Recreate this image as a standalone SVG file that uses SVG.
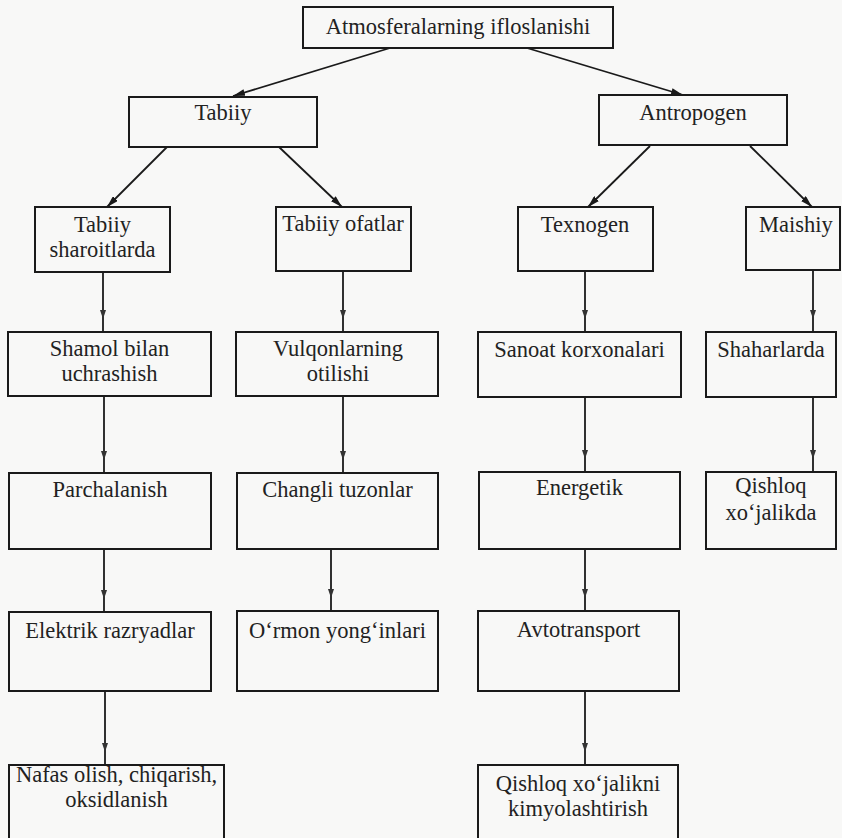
<svg xmlns="http://www.w3.org/2000/svg" width="842" height="838" viewBox="0 0 842 838">
<defs>
<style>
.box{fill:none;stroke:#1a1a1a;stroke-width:2}
.t{font-family:'Liberation Serif','Times New Roman','Noto Serif','DejaVu Serif',serif;font-size:22.5px;fill:#222;text-anchor:middle}
.c{fill:none;stroke:#1a1a1a;stroke-width:1.8}
.d{marker-end:url(#ah)}
.v{marker-mid:url(#ahs)}
</style>
<marker id="ah" viewBox="0 0 12 7" refX="12" refY="3.5" markerWidth="12" markerHeight="7" markerUnits="userSpaceOnUse" orient="auto"><path d="M0,0 L12,3.5 L0,7 z" fill="#1a1a1a"/></marker>
<marker id="ahs" viewBox="0 0 9 6" refX="9" refY="3" markerWidth="9" markerHeight="6" markerUnits="userSpaceOnUse" orient="auto"><path d="M0,0 L9,3 L0,6 z" fill="#333"/></marker>
</defs>
<rect width="842" height="838" fill="#f8f8f7"/>
<g id="connectors">
<path class="c d" d="M390,48 L233,96"/>
<path class="c d" d="M527,48 L683,95"/>
<path class="c d" d="M167,147 L107,207"/>
<path class="c d" d="M279,147 L342,207"/>
<path class="c d" d="M650,146 L588,207"/>
<path class="c d" d="M750,146 L812,207"/>
<path class="c v" d="M103,272 L103,319 L103,332"/>
<path class="c v" d="M104,396 L104,460 L104,473"/>
<path class="c v" d="M104,549 L104,599 L104,612"/>
<path class="c v" d="M105,691 L105,752 L105,765"/>
<path class="c v" d="M343,271 L343,319 L343,332"/>
<path class="c v" d="M343,396 L343,460 L343,473"/>
<path class="c v" d="M331,549 L331,598 L331,611"/>
<path class="c v" d="M585,271 L585,319 L585,332"/>
<path class="c v" d="M585,397 L585,459 L585,472"/>
<path class="c v" d="M585,549 L585,598 L585,611"/>
<path class="c v" d="M585,691 L585,752 L585,765"/>
<path class="c v" d="M813,270 L813,319 L813,332"/>
<path class="c v" d="M813,397 L813,459 L813,472"/>
</g>
<g id="n-root"><rect class="box" x="303" y="7" width="310" height="41"/><text class="t" x="458" y="34">Atmosferalarning ifloslanishi</text></g>
<g id="n-tabiiy"><rect class="box" x="129" y="97" width="188" height="50"/><text class="t" x="223" y="120">Tabiiy</text></g>
<g id="n-antropogen"><rect class="box" x="599" y="95" width="188" height="50"/><text class="t" x="693" y="120">Antropogen</text></g>
<g id="n-sharoit"><rect class="box" x="35" y="207" width="135" height="65"/><text class="t" x="102.5" y="232">Tabiiy</text><text class="t" x="102.5" y="257">sharoitlarda</text></g>
<g id="n-ofatlar"><rect class="box" x="276" y="207" width="135" height="64"/><text class="t" x="343" y="231">Tabiiy ofatlar</text></g>
<g id="n-texnogen"><rect class="box" x="518" y="207" width="135" height="64"/><text class="t" x="585" y="232">Texnogen</text></g>
<g id="n-maishiy"><rect class="box" x="746" y="207" width="94" height="63"/><text class="t" x="796" y="232">Maishiy</text></g>
<g id="n-shamol"><rect class="box" x="8" y="332" width="203" height="64"/><text class="t" x="109.5" y="356">Shamol bilan</text><text class="t" x="109.5" y="381">uchrashish</text></g>
<g id="n-vulqon"><rect class="box" x="236" y="332" width="202" height="64"/><text class="t" x="338" y="356">Vulqonlarning</text><text class="t" x="338" y="381">otilishi</text></g>
<g id="n-sanoat"><rect class="box" x="478" y="332" width="203" height="65"/><text class="t" x="579.5" y="357">Sanoat korxonalari</text></g>
<g id="n-shahar"><rect class="box" x="706" y="332" width="130" height="65"/><text class="t" x="771" y="357">Shaharlarda</text></g>
<g id="n-parcha"><rect class="box" x="9" y="473" width="202" height="76"/><text class="t" x="110" y="497">Parchalanish</text></g>
<g id="n-changli"><rect class="box" x="237" y="473" width="201" height="76"/><text class="t" x="337.5" y="497">Changli tuzonlar</text></g>
<g id="n-energetik"><rect class="box" x="479" y="472" width="201" height="77"/><text class="t" x="579.5" y="495">Energetik</text></g>
<g id="n-qishloq1"><rect class="box" x="706" y="472" width="130" height="77"/><text class="t" x="771" y="493">Qishloq</text><text class="t" x="771" y="520">xo‘jalikda</text></g>
<g id="n-elektrik"><rect class="box" x="9" y="612" width="202" height="79"/><text class="t" x="110" y="638">Elektrik razryadlar</text></g>
<g id="n-ormon"><rect class="box" x="237" y="611" width="201" height="80"/><text class="t" x="337.5" y="638">O‘rmon yong‘inlari</text></g>
<g id="n-avto"><rect class="box" x="478" y="611" width="201" height="80"/><text class="t" x="578.5" y="637">Avtotransport</text></g>
<g id="n-nafas"><rect class="box" x="9" y="765" width="215" height="80"/><text class="t" x="116.5" y="782">Nafas olish, chiqarish,</text><text class="t" x="116.5" y="807">oksidlanish</text></g>
<g id="n-qishloq2"><rect class="box" x="478" y="765" width="200" height="80"/><text class="t" x="578" y="791">Qishloq xo‘jalikni</text><text class="t" x="578" y="816">kimyolashtirish</text></g>
</svg>
